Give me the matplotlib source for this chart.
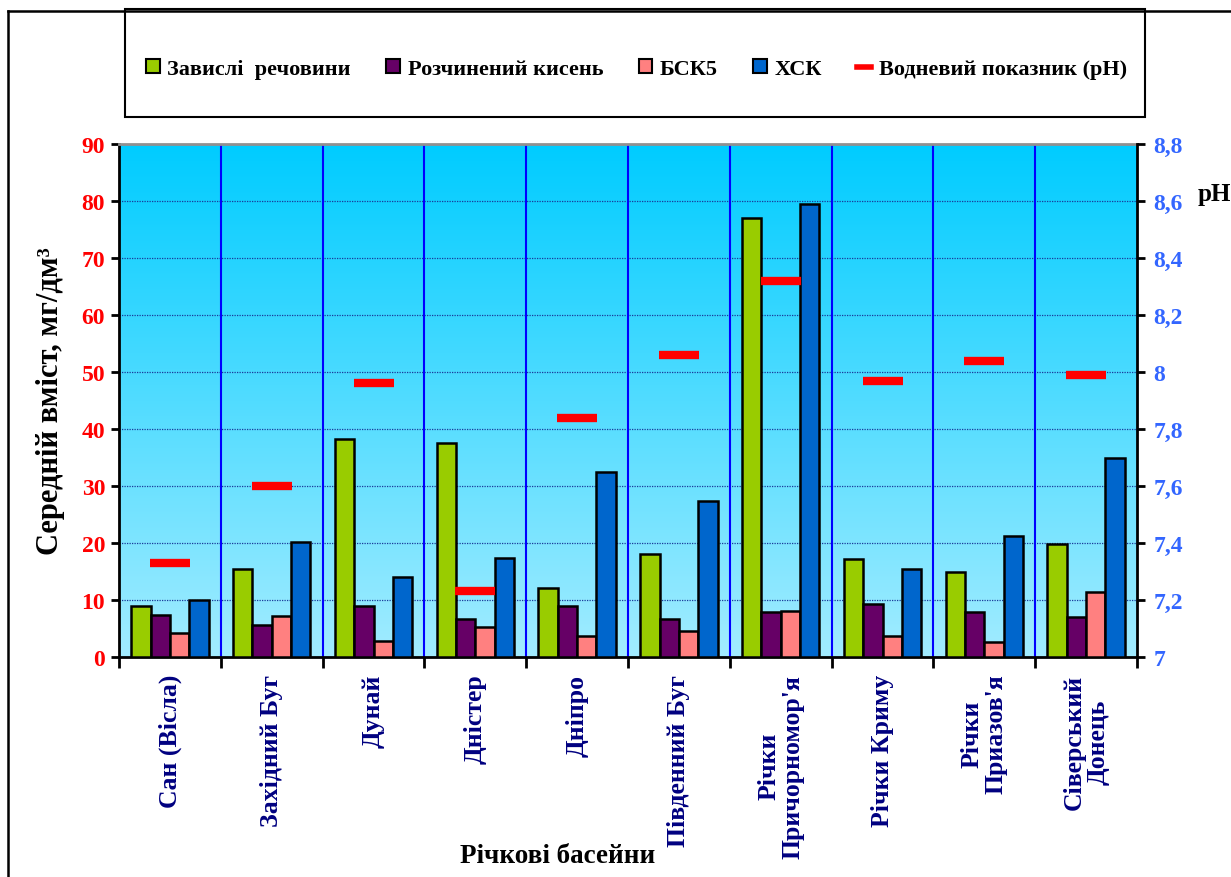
import numpy as np
import matplotlib
matplotlib.use('Agg')
import matplotlib.pyplot as plt
from matplotlib.patches import Rectangle, Patch
from matplotlib.lines import Line2D
from matplotlib.ticker import FuncFormatter, MultipleLocator

plt.rcParams['font.family'] = ['Liberation Serif', 'DejaVu Serif']
plt.rcParams['font.weight'] = 'bold'

# Річкові басейни та середні показники якості води
basins = ['Сан (Вісла)', 'Західний Буг', 'Дунай', 'Дністер', 'Дніпро',
          'Південний Буг', 'Річки\nПричорномор\'я', 'Річки Криму',
          'Річки\nПриазов\'я', 'Сіверський\nДонець']
suspended = [8.9, 15.4, 38.2, 37.5, 12.1, 18.0, 77.0, 17.2, 15.0, 19.8]
oxygen = [7.4, 5.6, 8.9, 6.7, 8.9, 6.7, 7.9, 9.3, 7.9, 7.1]
bod5 = [4.2, 7.2, 2.8, 5.3, 3.7, 4.6, 8.1, 3.7, 2.7, 11.4]
cod = [10.0, 20.2, 14.0, 17.3, 32.5, 27.4, 79.5, 15.4, 21.2, 35.0]
ph = [7.33, 7.60, 7.96, 7.23, 7.84, 8.06, 8.32, 7.97, 8.04, 7.99]

series = [('Завислі  речовини', suspended, '#99CC00'),
          ('Розчинений кисень', oxygen, '#660066'),
          ('БСК5', bod5, '#FF8080'),
          ('ХСК', cod, '#0066CC')]

fig = plt.figure(figsize=(12.31, 8.78), dpi=100)
ax = fig.add_axes([119 / 1231, 1 - 658 / 878, 1018 / 1231, 513 / 878])
ax2 = ax.twinx()

x = np.arange(len(basins))
w = 0.19

# градієнтний фон області побудови
grad = np.linspace(0, 1, 256).reshape(-1, 1)
cmap = matplotlib.colors.LinearSegmentedColormap.from_list('bg', ['#A2ECFF', '#00CCFF'])
ax.imshow(grad, extent=[-0.5, len(basins) - 0.5, 0, 90], origin='lower',
          cmap=cmap, aspect='auto', zorder=0)

for i, (name, vals, col) in enumerate(series):
    ax.bar(x + (i - 1.5) * w, vals, width=w, color=col, edgecolor='black',
           linewidth=1.8, zorder=3)

ax.set_xlim(-0.5, len(basins) - 0.5)
ax.set_ylim(0, 90)
ax.yaxis.set_major_locator(MultipleLocator(10))
for yv in range(10, 90, 10):
    ax.axhline(yv, color='#1A3A9A', lw=0.9, ls=(0, (1, 1)), zorder=1)
for xv in np.arange(0.5, len(basins) - 0.5):
    ax.axvline(xv, color='#0000FF', lw=1.5, zorder=1)

ax.set_xticks(x)
ax.set_xticklabels(basins, rotation=90, color='#000080', fontsize=18.5,
                   fontweight='bold', multialignment='center', linespacing=1.05)
ax.set_xticks(np.arange(-0.5, len(basins)), minor=True)
ax.tick_params(axis='x', which='major', length=0, pad=12)
ax.tick_params(axis='x', which='minor', length=8, width=2, direction='out')
ax.tick_params(axis='y', length=6, width=2, direction='out', labelsize=17,
               labelcolor='#FF0000', pad=4)
for lbl in ax.get_yticklabels():
    lbl.set_fontweight('bold')

for s in ['left', 'bottom']:
    ax.spines[s].set_linewidth(2)
ax.spines['top'].set_color('#909090')
ax.spines['top'].set_linewidth(2)
ax.spines['right'].set_visible(False)

ax.set_ylabel('Середній вміст, мг/дм³', fontsize=22, fontweight='bold', labelpad=12)

# водневий показник на правій осі
ax2.plot(x, ph, linestyle='none', marker='_', ms=29, mew=6, color='#FF0000', zorder=5)
ax2.set_ylim(7, 8.8)
ax2.yaxis.set_major_locator(MultipleLocator(0.2))
ax2.yaxis.set_major_formatter(FuncFormatter(lambda v, p: f'{v:.1f}'.rstrip('0').rstrip('.').replace('.', ',')))
ax2.tick_params(axis='y', length=6, width=2, direction='out', labelsize=17,
                labelcolor='#3366FF', pad=6)
for lbl in ax2.get_yticklabels():
    lbl.set_fontweight('bold')
ax2.spines['right'].set_linewidth(2)
ax2.spines['top'].set_visible(False)
ax2.spines['left'].set_visible(False)
ax2.spines['bottom'].set_visible(False)

fig.text(1214 / 1231, 1 - 195 / 878, 'pH', fontsize=18, fontweight='bold',
         ha='center', va='center')
fig.text(558 / 1231, 1 - 857 / 878, 'Річкові басейни', fontsize=19.5,
         fontweight='bold', ha='center', va='center')

# рамка легенди та зовнішня рамка
fig.patches.append(Rectangle((125 / 1231, 1 - 118 / 878), 1020 / 1231, 108 / 878,
                             transform=fig.transFigure, fill=False,
                             edgecolor='black', lw=1.5))
fig.lines.append(Line2D([8 / 1231, 1], [1 - 12 / 878, 1 - 12 / 878],
                        transform=fig.transFigure, color='black', lw=1.8))
fig.lines.append(Line2D([8 / 1231, 8 / 1231], [0, 1 - 12 / 878],
                        transform=fig.transFigure, color='black', lw=1.8))

handles = [Patch(facecolor=c, edgecolor='black', lw=1.5) for _, _, c in series]
handles.append(Line2D([], [], color='#FF0000', lw=4))
labels = [n for n, _, _ in series] + ['Водневий показник (pH)']
fig.legend(handles, labels, ncol=5, loc='center', bbox_to_anchor=(0.517, 0.92),
           frameon=False, handlelength=0.6, handleheight=0.6,
           handletextpad=0.35, columnspacing=1.6, prop={'weight': 'bold', 'size': 16})

fig.savefig('out.png', dpi=100)
